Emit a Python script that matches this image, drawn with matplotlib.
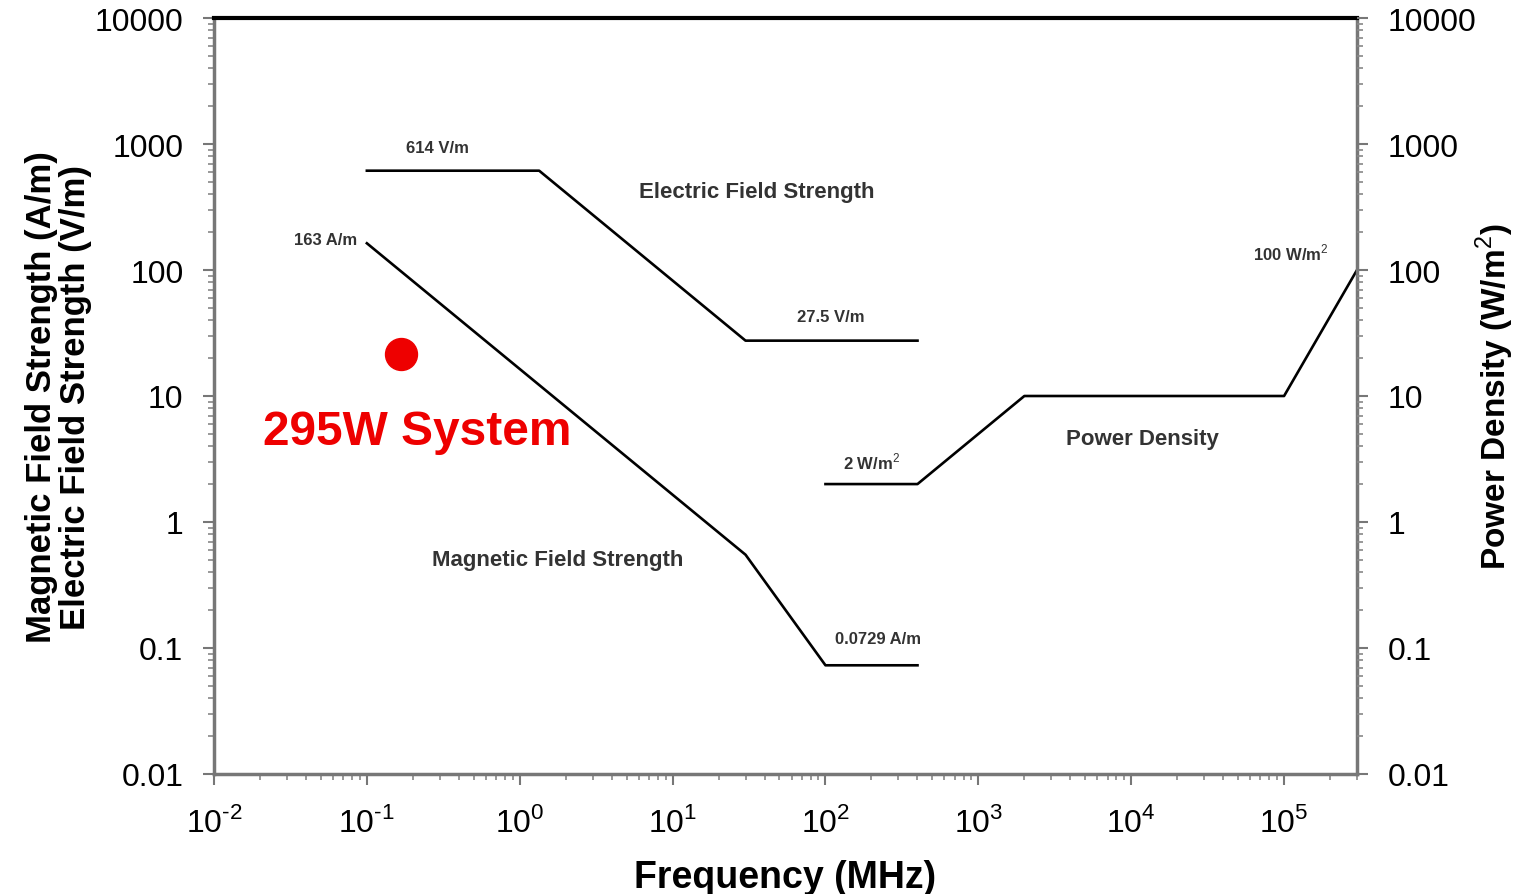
import matplotlib.pyplot as plt
from matplotlib.ticker import FixedLocator, FixedFormatter, LogLocator, NullFormatter, FuncFormatter
import numpy as np

plt.rcParams['font.family'] = ['Liberation Sans', 'DejaVu Sans']
plt.rcParams['mathtext.fontset'] = 'custom'
plt.rcParams['mathtext.rm'] = 'Liberation Sans'
plt.rcParams['mathtext.bf'] = 'Liberation Sans:bold'

# reference level curves (frequency in MHz)
e_freq = [0.1, 1.34, 30, 400]
e_field = [614, 614, 27.5, 27.5]

h_freq = [0.1, 30, 100, 400]
h_field = [163, 0.55, 0.0729, 0.0729]

s_freq = [100, 400, 2000, 1e5, 3e5]
s_density = [2, 2, 10, 10, 100]

# measured system point
sys_freq = 0.167
sys_level = 21.5
sys_name = "295W System"

y_ticks = [0.01, 0.1, 1, 10, 100, 1000, 10000]
y_labels = ["0.01", "0.1", "1", "10", "100", "1000", "10000"]

fig = plt.figure(figsize=(15.15, 8.95), dpi=100)
ax = fig.add_axes([214 / 1515, 1 - 775 / 895, (1357 - 214) / 1515, (775 - 19) / 895])

ax.plot(e_freq, e_field, color='black', lw=1.9)
ax.plot(h_freq, h_field, color='black', lw=1.9)
ax.plot(s_freq, s_density, color='black', lw=1.9)
ax.plot(sys_freq, sys_level, 'o', color='#ee0000', markersize=23)

ax.set_xscale('log')
ax.set_yscale('log')
ax.set_xlim(0.01, 3e5)
ax.set_ylim(0.01, 10000)

lab = dict(color='#333333', fontweight='bold', fontsize=12, ha='center', va='center')
big = dict(color='#333333', fontweight='bold', fontsize=16, ha='center', va='center')
ax.text(0.288, 946, "614 V/m", **lab)
ax.text(0.086, 176, "163 A/m", **{**lab, 'ha': 'right'})
ax.text(35.5, 416, "Electric Field Strength", **big)
ax.text(109, 42.4, "27.5 V/m", **lab)
ax.text(200, 3.05, "2 W/m$^2$", **lab)
ax.text(219, 0.118, "0.0729 A/m", **lab)
ax.text(11900, 4.56, "Power Density", **big)
ax.text(1.77, 0.5, "Magnetic Field Strength", **big)
ax.text(1.11e5, 139, "100 W/m$^2$", **lab)
ax.text(0.213, 5.27, sys_name, color='#ee0000', fontweight='bold', fontsize=34.5,
        ha='center', va='center')


def pow10(v, pos):
    e = int(round(np.log10(v)))
    if e < 0:
        return r'$10^{\text{-}%d}$' % -e
    return r'$10^{%d}$' % e


ax.xaxis.set_major_locator(LogLocator(base=10, numticks=20))
ax.xaxis.set_major_formatter(FuncFormatter(pow10))
ax.xaxis.set_minor_locator(LogLocator(base=10, subs=range(2, 10), numticks=20))
ax.xaxis.set_minor_formatter(NullFormatter())
ax.yaxis.set_major_locator(FixedLocator(y_ticks))
ax.yaxis.set_major_formatter(FixedFormatter(y_labels))
ax.yaxis.set_minor_locator(LogLocator(base=10, subs=range(2, 10), numticks=20))
ax.yaxis.set_minor_formatter(NullFormatter())
ax.tick_params(which='major', direction='out', length=8, width=1.5, color='#777777',
               labelsize=23)
ax.tick_params(axis='y', which='major', pad=14)
ax.tick_params(axis='x', which='major', pad=15)
ax.tick_params(which='minor', direction='out', length=4, width=1.2, color='#888888')

for side in ['left', 'bottom', 'right']:
    ax.spines[side].set_color('#777777')
    ax.spines[side].set_linewidth(2.5)
ax.spines['top'].set_color('black')
ax.spines['top'].set_linewidth(3)

ax.set_xlabel("Frequency (MHz)", fontsize=27, fontweight='bold', labelpad=15)
ax.set_ylabel("Magnetic Field Strength (A/m)\nElectric Field Strength (V/m)",
              fontsize=25, fontweight='bold', labelpad=2, linespacing=1.05)

ax2 = ax.twinx()
ax2.set_yscale('log')
ax2.set_ylim(0.01, 10000)
ax2.yaxis.set_major_locator(FixedLocator(y_ticks))
ax2.yaxis.set_major_formatter(FixedFormatter(y_labels))
ax2.yaxis.set_minor_locator(LogLocator(base=10, subs=range(2, 10), numticks=20))
ax2.yaxis.set_minor_formatter(NullFormatter())
ax2.tick_params(which='major', direction='out', length=8, width=1.5, color='#777777',
                labelsize=23, pad=14)
ax2.tick_params(which='minor', direction='out', length=4, width=1.2, color='#888888')
for side in ax2.spines:
    ax2.spines[side].set_visible(False)
ax2.set_ylabel("Power Density (W/m$^2$)", fontsize=24, fontweight='bold', labelpad=-2)

fig.savefig("out.png", dpi=100)
